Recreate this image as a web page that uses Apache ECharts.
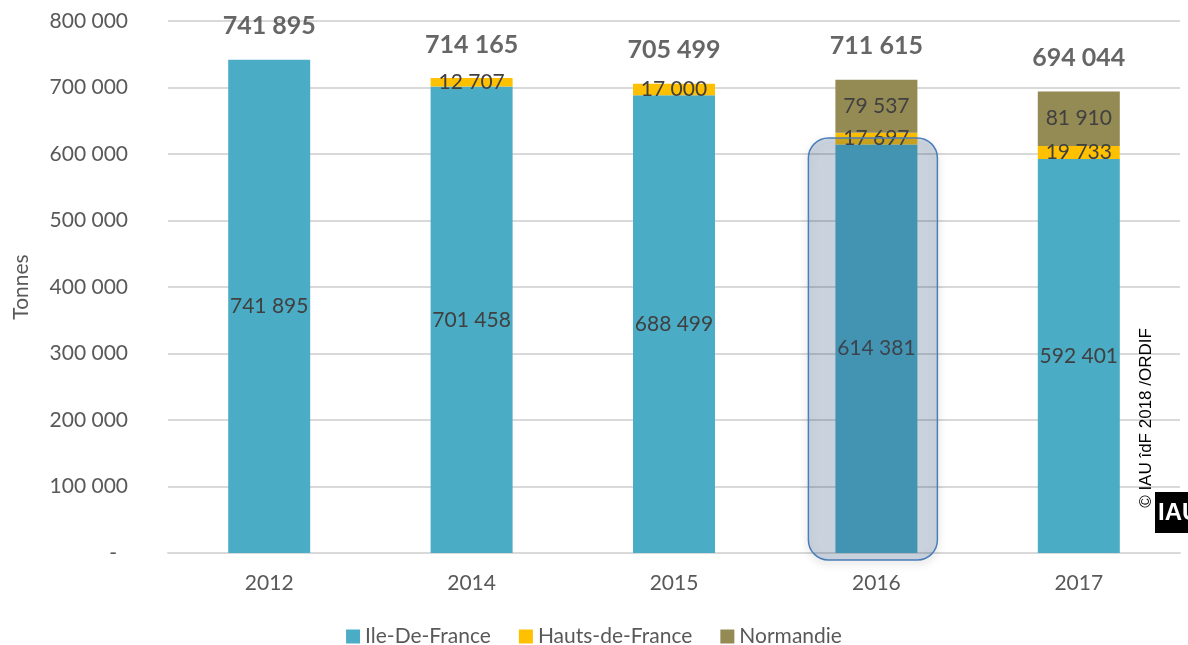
<!DOCTYPE html>
<html>
<head>
<meta charset="utf-8">
<script src="https://cdn.jsdelivr.net/npm/echarts@6/dist/echarts.min.js"></script>
<style>
html,body{margin:0;padding:0;background:#fff;}
#chart{width:1188px;height:645px;}
</style>
</head>
<body>
<div id="chart"></div>
<script>
var years = ['2012', '2014', '2015', '2016', '2017'];
var ileDeFrance = [741895, 701458, 688499, 614381, 592401];
var hautsDeFrance = [null, 12707, 17000, 17697, 19733];
var normandie = [null, null, null, 79537, 81910];
var highlightYear = '2016';

var FONT = 'Lato, "Liberation Sans", sans-serif';

function fmt(v){
	return String(v).replace(/\B(?=(\d{3})+(?!\d))/g, ' ');
}

var totals = [];
for(var i=0;i<years.length;i++){
	totals.push((ileDeFrance[i]||0)+(hautsDeFrance[i]||0)+(normandie[i]||0));
}

var insideLabel = {
	show: true,
	position: 'inside',
	color: '#404040',
	fontSize: 21,
	fontFamily: FONT,
	formatter: function(p){ return fmt(p.value); }
};

var myChart = echarts.init(document.getElementById('chart'));
var option = {
	animation: false,
	textStyle: {fontFamily: FONT},
	grid: {left: 168, right: 8, top: 21, bottom: 92},
	legend: {
		data: ['Ile-De-France', 'Hauts-de-France', 'Normandie'],
		top: 621,
		left: 'center',
		itemWidth: 14,
		itemHeight: 14,
		itemGap: 28,
		icon: 'rect',
		textStyle: {fontSize: 21, color: '#595959', fontFamily: FONT}
	},
	xAxis: {
		type: 'category',
		data: years,
		axisTick: {show: false},
		axisLine: {lineStyle: {color: '#d9d9d9', width: 2}},
		axisLabel: {fontSize: 21, color: '#595959', margin: 20, fontFamily: FONT}
	},
	yAxis: {
		type: 'value',
		min: 0,
		max: 800000,
		interval: 100000,
		name: 'Tonnes',
		nameLocation: 'middle',
		nameGap: 136,
		nameTextStyle: {fontSize: 21, color: '#595959', fontFamily: FONT},
		axisLine: {show: false},
		axisTick: {show: false},
		splitLine: {lineStyle: {color: '#d9d9d9', width: 2}},
		axisLabel: {
			fontSize: 21, color: '#595959', margin: 40, fontFamily: FONT,
			formatter: function(v){ return v === 0 ? '{d|-}' : fmt(v); },
			rich: {d: {fontSize: 21, color: '#595959', padding: [0, 11, 0, 0]}}
		}
	},
	series: [
		{
			name: 'Ile-De-France', type: 'bar', stack: 't', barWidth: 82,
			itemStyle: {color: '#4bacc6'},
			label: insideLabel,
			data: ileDeFrance
		},
		{
			name: 'Hauts-de-France', type: 'bar', stack: 't', barWidth: 82,
			itemStyle: {color: '#ffc000'},
			label: insideLabel,
			data: hautsDeFrance
		},
		{
			name: 'Normandie', type: 'bar', stack: 't', barWidth: 82,
			itemStyle: {color: '#948a54'},
			label: insideLabel,
			data: normandie
		},
		{
			name: 'Total', type: 'scatter', data: totals,
			symbol: 'circle', symbolSize: 2,
			itemStyle: {color: 'rgba(0,0,0,0)'},
			silent: true,
			z: 20,
			label: {
				show: true, position: 'top', distance: 20,
				fontSize: 25, fontWeight: 'bold', color: '#404040', fontFamily: FONT,
				formatter: function(p){ return fmt(p.value); }
			}
		}
	]
};
myChart.setOption(option);

// highlight box round the 2016 bar, and credit on the right
var cx = myChart.convertToPixel({xAxisIndex: 0}, highlightYear);
var yTop = myChart.convertToPixel({yAxisIndex: 0}, 618000);
var yBot = myChart.convertToPixel({yAxisIndex: 0}, 0);
myChart.setOption({
	graphic: [
		{
			type: 'rect', z: 100,
			shape: {x: cx - 68, y: yTop - 4, width: 129, height: yBot - yTop + 11, r: 20},
			style: {
				fill: 'rgba(60,99,146,0.22)', stroke: '#4a7ebb', lineWidth: 1.5,
				shadowBlur: 8, shadowColor: 'rgba(0,0,0,0.25)', shadowOffsetY: 3
			}
		},
		{
			type: 'text', z: 100,
			x: 1146, y: 418, rotation: Math.PI / 2,
			style: {
				text: '\u00a9 IAU \u00eedF 2018 /ORDIF',
				fill: '#000', font: '17px "Liberation Sans", Arial, sans-serif',
				align: 'center', verticalAlign: 'middle'
			}
		},
		{
			type: 'rect', z: 100,
			shape: {x: 1155, y: 492, width: 33, height: 41},
			style: {fill: '#000'}
		},
		{
			type: 'text', z: 101,
			x: 1158, y: 513,
			style: {
				text: 'IAU', fill: '#fff',
				font: 'bold 24px "Liberation Sans Narrow", "Liberation Sans", sans-serif',
				verticalAlign: 'middle'
			}
		}
	]
});
</script>
</body>
</html>
